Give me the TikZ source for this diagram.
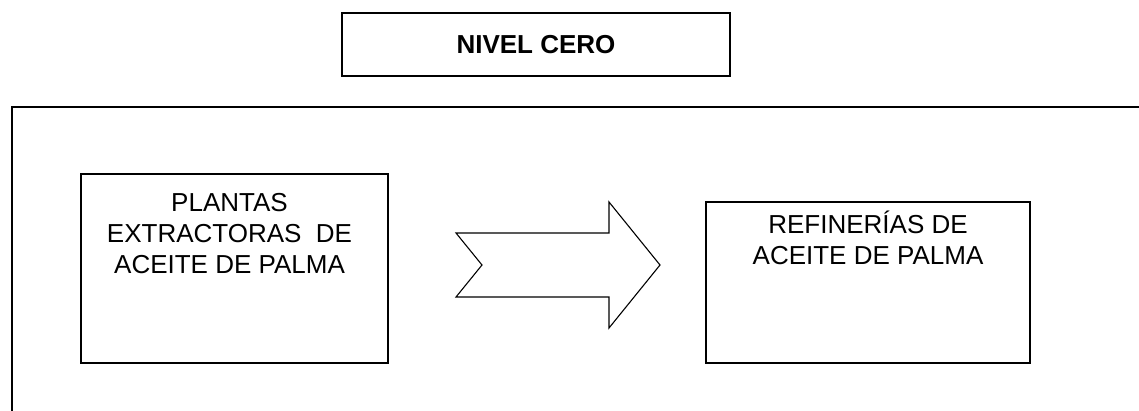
\documentclass[tikz,border=0pt]{standalone}
\usepackage{fontspec}
\setmainfont{Liberation Sans}
\usetikzlibrary{positioning}
\tikzset{caja/.style={draw, line width=1.6pt, inner sep=0pt}}
\tikzset{texto/.style={align=center, inner sep=0pt, font=\fontsize{26}{31}\selectfont}}

\begin{document}
\begin{tikzpicture}[x=1pt,y=-1pt]
		\useasboundingbox (0,0) rectangle (1139,411);
		% marco del nivel
		\draw[line width=2pt] (12,416) -- (12,107) -- (1145,107);
		
		\node[caja, minimum width=388pt, minimum height=63pt, font=\bfseries\fontsize{26}{31}\selectfont] (nivel) at (536,44.5) {NIVEL CERO};
		
		\node[caja, minimum width=307pt, minimum height=189pt] (plantas) at (234.5,268.5) {};
		\node[texto, below=20pt of plantas.north, xshift=-5pt] (tplantas) {PLANTAS\\EXTRACTORAS\ \ DE\\ACEITE DE PALMA};
		
		\node[caja, minimum width=324pt, minimum height=161pt] (refinerias) at (868,282.5) {};
		\node[texto, below=10pt of refinerias.north] (trefinerias) {REFINERÍAS DE\\ACEITE DE PALMA};
		
		% flecha
		\draw[line width=1.1pt, line join=miter] (456,233) -- (609,233) -- (609,202) -- (660,265) -- (609,328) -- (609,297) -- (456,297) -- (482,265) -- cycle;
		
		%		\draw[very thin,color=gray] (0,0) grid[step=50] (1139,411);
	\end{tikzpicture}
\end{document}
